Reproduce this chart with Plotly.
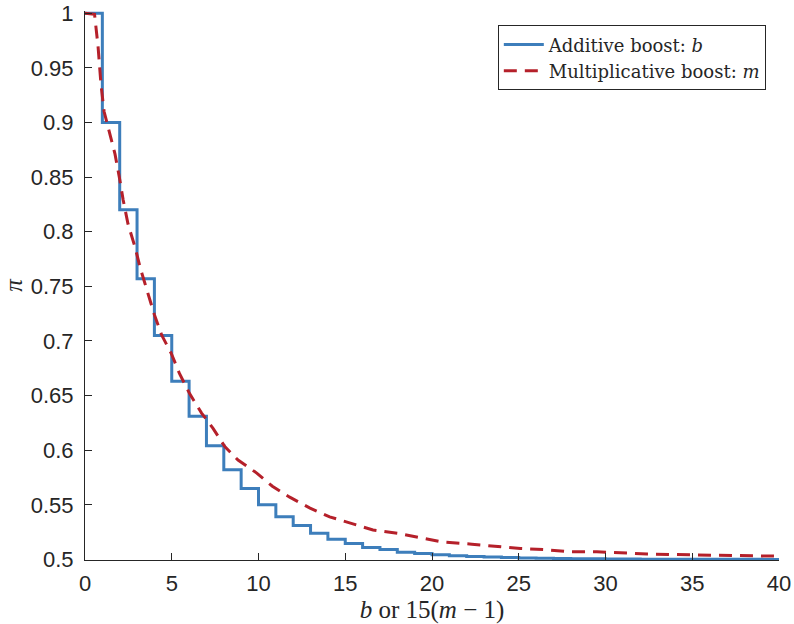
import plotly.graph_objects as go

# Additive boost b: step values on [b, b+1)
b_vals = list(range(0, 41))
pi_additive = [1.0, 0.900, 0.820, 0.757, 0.705, 0.663, 0.631, 0.604, 0.582, 0.565,
               0.550, 0.539, 0.531, 0.524, 0.5185, 0.5146, 0.511, 0.509, 0.5067, 0.5055,
               0.5043, 0.5035, 0.5028, 0.5022, 0.5018, 0.5014, 0.5011, 0.5009, 0.5007, 0.5006,
               0.5005, 0.5004, 0.5003, 0.5002, 0.5002, 0.5001, 0.5001, 0.5001, 0.5001, 0.5,
               0.5]

# Multiplicative boost m, plotted against 15(m-1)
m_scaled = [0, 0.55, 0.75, 0.92, 1.1, 1.44, 1.73, 2.0, 2.2, 2.48, 2.88, 3.2, 3.6, 4.0,
            4.43, 4.96, 5.45, 6.02, 6.72, 7.38, 8.07, 8.82, 9.9, 10.8, 11.8, 12.97, 14.1,
            15.3, 16.6, 18.0, 19.3, 20.6, 22.3, 23.7, 25.1, 26.5, 28.0, 29.5, 30.8, 32.4,
            33.8, 35.3, 36.8, 38.2, 40]
pi_multiplicative = [1.0, 0.999, 0.97, 0.935, 0.91, 0.89, 0.871, 0.848, 0.829, 0.807,
                     0.786, 0.766, 0.745, 0.724, 0.705, 0.689, 0.67, 0.652, 0.634, 0.620,
                     0.603, 0.591, 0.579, 0.567, 0.557, 0.547, 0.539, 0.533, 0.527, 0.524,
                     0.520, 0.516, 0.514, 0.512, 0.510, 0.509, 0.507, 0.507, 0.506, 0.505,
                     0.5045, 0.504, 0.5035, 0.503, 0.503]

x_ticks = [0, 5, 10, 15, 20, 25, 30, 35, 40]
y_ticks = [0.5, 0.55, 0.6, 0.65, 0.7, 0.75, 0.8, 0.85, 0.9, 0.95, 1.0]
y_tick_labels = ['0.5', '0.55', '0.6', '0.65', '0.7', '0.75', '0.8', '0.85', '0.9', '0.95', '1']

serif = 'Liberation Serif, DejaVu Serif, serif'
sans = 'Liberation Sans, Arial, sans-serif'

fig = go.Figure()

fig.add_trace(go.Scatter(
    x=b_vals, y=pi_additive,
    mode='lines', line=dict(color='#3D7EBB', width=3, shape='hv'),
    name='Additive boost: <i>b</i>'
))

fig.add_trace(go.Scatter(
    x=m_scaled, y=pi_multiplicative,
    mode='lines', line=dict(color='#B5202A', width=3, dash='13px,8px'),
    name='Multiplicative boost: <i>m</i>'
))

fig.update_layout(
    width=794, height=624,
    margin=dict(l=85, r=15, t=11, b=64, autoexpand=False),
    plot_bgcolor='white', paper_bgcolor='white',
    font=dict(family=sans, size=22, color='#262626'),
    showlegend=True,
    legend=dict(
        x=0.981, y=0.974, xanchor='right', yanchor='top',
        bordercolor='#262626', borderwidth=1, bgcolor='white',
        font=dict(family='DejaVu Serif, serif', size=18, color='#262626'),
        tracegroupgap=0, itemwidth=40
    )
)

fig.update_xaxes(
    range=[0, 40], tickvals=x_ticks, ticks='inside', ticklen=7, tickcolor='#262626',
    showline=True, linecolor='#262626', linewidth=1, showgrid=False, zeroline=False,
    ticklabelstandoff=4, automargin=False,
    title=dict(text='<i>b</i> or 15(<i>m</i> \u2212 1)', font=dict(family=serif, size=25), standoff=2)
)
fig.update_yaxes(
    range=[0.4995, 1.002], tickvals=y_ticks, ticktext=y_tick_labels,
    ticks='inside', ticklen=7, tickcolor='#262626',
    showline=True, linecolor='#262626', linewidth=1, showgrid=False, zeroline=False,
    ticklabelstandoff=6, automargin=False,
    title=dict(text='<i>\u03c0</i>', font=dict(family=serif, size=25), standoff=4)
)

# drop the default page margin so the figure sits at the window's corner
fig.write_html("out.html", config={'displayModeBar': False},
               post_script="document.body.style.margin='0';document.body.style.overflow='hidden';")
